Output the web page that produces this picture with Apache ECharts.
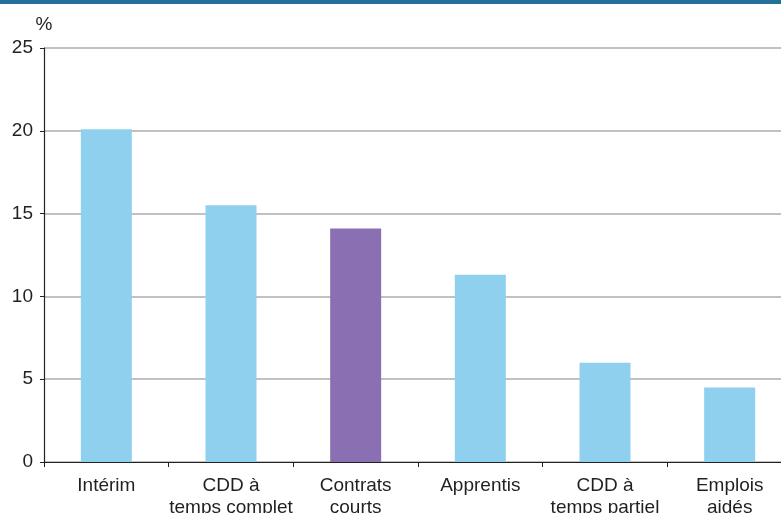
<!DOCTYPE html>
<html><head><meta charset="utf-8">
<script src="https://cdn.jsdelivr.net/npm/echarts@6/dist/echarts.min.js"></script>
<style>html,body{margin:0;padding:0;background:#fff}#c{width:781px;height:513px}</style>
</head><body><div id="c"></div>
<script>
const categories = ['Intérim', 'CDD à\ntemps complet', 'Contrats\ncourts', 'Apprentis', 'CDD à\ntemps partiel', 'Emplois\naidés'];
const values = [20.1, 15.5, 14.1, 11.3, 6.0, 4.5];
const highlighted = [false, false, true, false, false, false];
const yTicks = [0, 5, 10, 15, 20, 25];

const chart = echarts.init(document.getElementById('c'), null, {renderer: 'canvas'});
chart.setOption({
  animation: false,
  graphic: [{type: 'rect', shape: {x: 0, y: 0, width: 781, height: 4}, style: {fill: '#23709c'}}],
  grid: {left: 44, top: 48, bottom: 51, right: -11, containLabel: false, outerBoundsMode: 'none'},
  xAxis: {
    type: 'category', data: categories,
    axisLine: {lineStyle: {color: '#222', width: 1.2}},
    axisTick: {show: true, length: 5, lineStyle: {color: '#222'}},
    axisLabel: {interval: 0, fontFamily: 'Liberation Sans', fontSize: 19, color: '#231f20', lineHeight: 22, margin: 13}
  },
  yAxis: {
    type: 'value', min: 0, max: 25, interval: 5,
    name: '%', nameLocation: 'end', nameGap: 14,
    nameTextStyle: {fontFamily: 'Liberation Sans', fontSize: 19, color: '#231f20'},
    axisLine: {show: true, lineStyle: {color: '#222', width: 1.2}},
    axisTick: {show: true, length: 4, lineStyle: {color: '#222'}},
    axisLabel: {fontFamily: 'Liberation Sans', fontSize: 19, color: '#231f20', margin: 11,
      formatter: v => yTicks.includes(v) ? String(v) : ''},
    splitLine: {show: true, lineStyle: {color: '#adadad', width: 1.5}}
  },
  series: [{
    type: 'bar', barWidth: 51,
    data: values.map((v, i) => ({value: v, itemStyle: {color: highlighted[i] ? '#8a70b2' : '#8fd0ee'}}))
  }]
});
</script></body></html>
